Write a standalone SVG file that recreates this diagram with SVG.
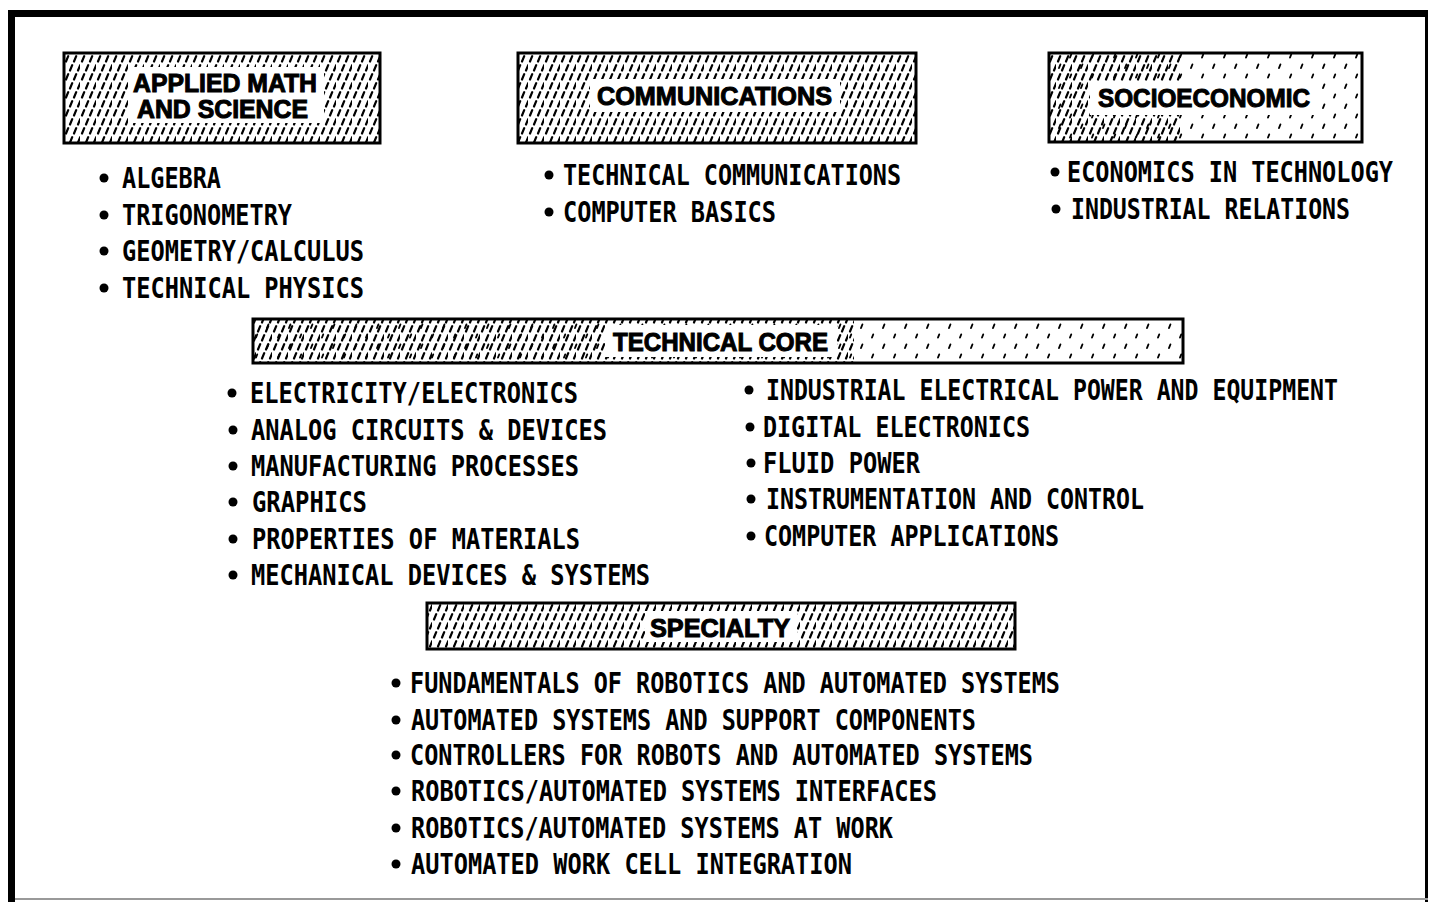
<svg xmlns="http://www.w3.org/2000/svg" width="1430" height="902" viewBox="0 0 1430 902">
  <defs>
    <!-- dense stipple of short slanted strokes used inside the heading boxes -->
    <pattern id="stip" width="16" height="18" patternUnits="userSpaceOnUse">
      <path d="M2 7.5 L4.2 2.2 M10 7.5 L12.2 2.2 M6 16.5 L8.2 11.2 M14 16.5 L16.2 11.2" stroke="#000" stroke-width="2.2" stroke-linecap="round" fill="none"/>
    </pattern>
    <!-- lighter stipple for the faded parts of some boxes -->
    <pattern id="stipLight" width="22" height="20" patternUnits="userSpaceOnUse">
      <path d="M3 8 L4.4 4.5 M14 17.5 L15.2 14.5" stroke="#000" stroke-width="1.9" stroke-linecap="round" fill="none"/>
    </pattern>
    <style>
      .box { stroke: #000; stroke-width: 3; }
      .clear { fill: #fff; }
      .head { font-family: "Liberation Sans", Arial, sans-serif; font-weight: bold; font-size: 25px; fill: #000; stroke: #000; stroke-width: 1; }
      .item { font-family: "DejaVu Sans Mono", "Liberation Mono", monospace; font-weight: bold; font-size: 29px; fill: #000; }
      .dot { fill: #000; }
    </style>
  </defs>

  <rect width="1430" height="902" fill="#fff"/>

  <!-- outer frame -->
  <g id="frame" fill="#000">
    <rect x="8" y="10" width="1420" height="7"/>
    <rect x="8" y="10" width="7" height="892"/>
    <rect x="1425" y="10" width="3" height="892"/>
    <rect x="15" y="898" width="1413" height="2" fill="#999"/>
  </g>

  <!-- APPLIED MATH AND SCIENCE -->
  <g id="applied-math">
    <rect class="box" x="64" y="53" width="316" height="90" fill="url(#stip)"/>
    <rect class="clear" x="128" y="67" width="196" height="56"/>
    <text class="head" x="133" y="92" textLength="184" lengthAdjust="spacingAndGlyphs">APPLIED MATH</text>
    <text class="head" x="137" y="118" textLength="171" lengthAdjust="spacingAndGlyphs">AND SCIENCE</text>
    <circle class="dot" cx="104" cy="178" r="4.5"/>
    <text class="item" x="122" y="188" textLength="99" lengthAdjust="spacingAndGlyphs">ALGEBRA</text>
    <circle class="dot" cx="104" cy="215" r="4.5"/>
    <text class="item" x="122" y="225" textLength="170" lengthAdjust="spacingAndGlyphs">TRIGONOMETRY</text>
    <circle class="dot" cx="104" cy="251" r="4.5"/>
    <text class="item" x="122" y="261" textLength="242" lengthAdjust="spacingAndGlyphs">GEOMETRY/CALCULUS</text>
    <circle class="dot" cx="104" cy="288" r="4.5"/>
    <text class="item" x="122" y="298" textLength="242" lengthAdjust="spacingAndGlyphs">TECHNICAL PHYSICS</text>
  </g>

  <!-- COMMUNICATIONS -->
  <g id="communications">
    <rect class="box" x="518" y="53" width="398" height="90" fill="url(#stip)"/>
    <rect class="clear" x="590" y="79" width="250" height="33"/>
    <text class="head" x="597" y="105" textLength="235" lengthAdjust="spacingAndGlyphs">COMMUNICATIONS</text>
    <circle class="dot" cx="549" cy="175" r="4.5"/>
    <text class="item" x="563" y="185" textLength="338" lengthAdjust="spacingAndGlyphs">TECHNICAL COMMUNICATIONS</text>
    <circle class="dot" cx="549" cy="212" r="4.5"/>
    <text class="item" x="563" y="222" textLength="213" lengthAdjust="spacingAndGlyphs">COMPUTER BASICS</text>
  </g>

  <!-- SOCIOECONOMIC -->
  <g id="socioeconomic">
    <rect class="box" x="1049" y="53" width="313" height="89" fill="url(#stipLight)"/>
    <rect x="1050" y="54" width="130" height="87" fill="url(#stip)"/>
    <rect class="clear" x="1090" y="81" width="228" height="34"/>
    <text class="head" x="1098" y="107" textLength="212" lengthAdjust="spacingAndGlyphs">SOCIOECONOMIC</text>
    <circle class="dot" cx="1055" cy="172" r="4.5"/>
    <text class="item" x="1067" y="182" textLength="326" lengthAdjust="spacingAndGlyphs">ECONOMICS IN TECHNOLOGY</text>
    <circle class="dot" cx="1056" cy="209" r="4.5"/>
    <text class="item" x="1071" y="219" textLength="279" lengthAdjust="spacingAndGlyphs">INDUSTRIAL RELATIONS</text>
  </g>

  <!-- TECHNICAL CORE -->
  <g id="technical-core">
    <rect class="box" x="253" y="319" width="930" height="44" fill="url(#stipLight)"/>
    <rect x="254" y="320" width="600" height="42" fill="url(#stip)"/>
    <rect class="clear" x="605" y="325" width="232" height="32"/>
    <text class="head" x="613" y="351" textLength="215" lengthAdjust="spacingAndGlyphs">TECHNICAL CORE</text>

    <circle class="dot" cx="232" cy="393" r="4.5"/>
    <text class="item" x="250" y="403" textLength="328" lengthAdjust="spacingAndGlyphs">ELECTRICITY/ELECTRONICS</text>
    <circle class="dot" cx="233" cy="430" r="4.5"/>
    <text class="item" x="251" y="440" textLength="356" lengthAdjust="spacingAndGlyphs">ANALOG CIRCUITS &amp; DEVICES</text>
    <circle class="dot" cx="233" cy="466" r="4.5"/>
    <text class="item" x="251" y="476" textLength="328" lengthAdjust="spacingAndGlyphs">MANUFACTURING PROCESSES</text>
    <circle class="dot" cx="233" cy="502" r="4.5"/>
    <text class="item" x="252" y="512" textLength="115" lengthAdjust="spacingAndGlyphs">GRAPHICS</text>
    <circle class="dot" cx="233" cy="539" r="4.5"/>
    <text class="item" x="252" y="549" textLength="328" lengthAdjust="spacingAndGlyphs">PROPERTIES OF MATERIALS</text>
    <circle class="dot" cx="233" cy="575" r="4.5"/>
    <text class="item" x="251" y="585" textLength="399" lengthAdjust="spacingAndGlyphs">MECHANICAL DEVICES &amp; SYSTEMS</text>

    <circle class="dot" cx="749" cy="390" r="4.5"/>
    <text class="item" x="766" y="400" textLength="572" lengthAdjust="spacingAndGlyphs">INDUSTRIAL ELECTRICAL POWER AND EQUIPMENT</text>
    <circle class="dot" cx="750" cy="427" r="4.5"/>
    <text class="item" x="763" y="437" textLength="267" lengthAdjust="spacingAndGlyphs">DIGITAL ELECTRONICS</text>
    <circle class="dot" cx="751" cy="463" r="4.5"/>
    <text class="item" x="763" y="473" textLength="157" lengthAdjust="spacingAndGlyphs">FLUID POWER</text>
    <circle class="dot" cx="751" cy="499" r="4.5"/>
    <text class="item" x="766" y="509" textLength="378" lengthAdjust="spacingAndGlyphs">INSTRUMENTATION AND CONTROL</text>
    <circle class="dot" cx="751" cy="536" r="4.5"/>
    <text class="item" x="764" y="546" textLength="295" lengthAdjust="spacingAndGlyphs">COMPUTER APPLICATIONS</text>
  </g>

  <!-- SPECIALTY -->
  <g id="specialty">
    <rect class="box" x="427" y="603" width="588" height="46" fill="url(#stip)"/>
    <rect class="clear" x="645" y="611" width="152" height="31"/>
    <text class="head" x="650" y="637" textLength="140" lengthAdjust="spacingAndGlyphs">SPECIALTY</text>

    <circle class="dot" cx="396" cy="683" r="4.5"/>
    <text class="item" x="410" y="693" textLength="650" lengthAdjust="spacingAndGlyphs">FUNDAMENTALS OF ROBOTICS AND AUTOMATED SYSTEMS</text>
    <circle class="dot" cx="396" cy="720" r="4.5"/>
    <text class="item" x="411" y="730" textLength="565" lengthAdjust="spacingAndGlyphs">AUTOMATED SYSTEMS AND SUPPORT COMPONENTS</text>
    <circle class="dot" cx="396" cy="755" r="4.5"/>
    <text class="item" x="410" y="765" textLength="623" lengthAdjust="spacingAndGlyphs">CONTROLLERS FOR ROBOTS AND AUTOMATED SYSTEMS</text>
    <circle class="dot" cx="396" cy="791" r="4.5"/>
    <text class="item" x="411" y="801" textLength="526" lengthAdjust="spacingAndGlyphs">ROBOTICS/AUTOMATED SYSTEMS INTERFACES</text>
    <circle class="dot" cx="396" cy="828" r="4.5"/>
    <text class="item" x="411" y="838" textLength="482" lengthAdjust="spacingAndGlyphs">ROBOTICS/AUTOMATED SYSTEMS AT WORK</text>
    <circle class="dot" cx="396" cy="864" r="4.5"/>
    <text class="item" x="411" y="874" textLength="441" lengthAdjust="spacingAndGlyphs">AUTOMATED WORK CELL INTEGRATION</text>
  </g>
</svg>
